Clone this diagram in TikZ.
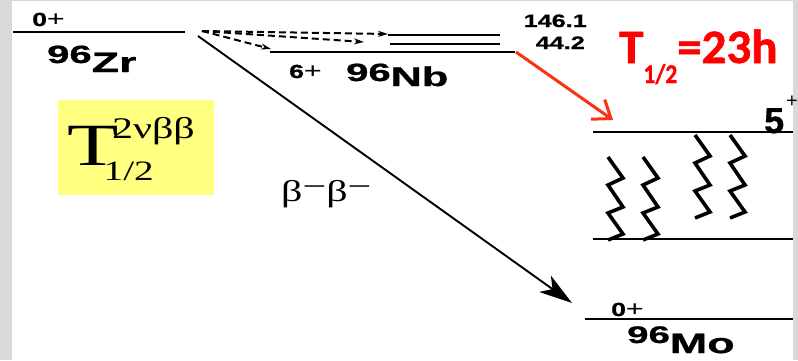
\documentclass[tikz,border=0pt]{standalone}
\usepackage{graphicx}
\usepackage{fontspec}
\setmainfont{Liberation Serif}
\setsansfont{Liberation Sans}[BoldFeatures={FakeBold=0.8}]
\newfontfamily\calfont{Carlito}[BoldFeatures={FakeBold=1.2}]
\usetikzlibrary{arrows.meta, positioning}

\definecolor{amarelo}{RGB}{255,255,128}
\definecolor{vermelho}{RGB}{255,0,0}
\definecolor{laranja}{RGB}{250,50,20}
\definecolor{borda}{RGB}{217,217,217}

\newcommand{\fsz}[1]{\fontsize{#1}{#1}\selectfont}
\newcommand{\xwide}[2][1.4]{\scalebox{#1}[1]{#2}}

\begin{document}
\begin{tikzpicture}[x=1pt, y=-1pt,
    nivel/.style={line width=2.3pt},
    nivelfino/.style={line width=1.8pt},
    rotulo/.style={font=\sffamily\bfseries, inner sep=0pt, anchor=base west},
    zig/.style={line width=3.6pt, line join=miter},
    tracejado/.style={line width=2pt, dash pattern=on 7pt off 4pt,
        -{Stealth[length=10pt, width=6pt]}}]

                % Fundo e margens
                \useasboundingbox (0,0) rectangle (798,360);
                \fill[borda] (0,0) rectangle (12,360);
                \fill[borda] (793,0) rectangle (798,360);
                \fill[borda] (0,0) rectangle (798,1);

                % Nivel do 96Zr
                \draw[nivel] (13,32) -- (185,32);
                \node[rotulo] (zrspin) at (32,26) {\xwide{\fsz{19}0\fsz{22}\mdseries+}};
                \node[rotulo] (zrnome) at (47,72) {\xwide[1.6]{\raisebox{9pt}{\fsz{25}96}\fsz{28}Zr}};

                % Niveis do 96Nb
                \draw[nivel] (270,52) -- (515,52);
                \draw[nivelfino] (388,35) -- (500,35);
                \draw[nivelfino] (390,44) -- (500,44);
                \node[rotulo, anchor=base east] (ea) at (587,27) {\xwide{\fsz{18}146.1}};
                \node[rotulo, anchor=base east] (eb) at (585,49) {\xwide{\fsz{18}44.2}};
                \node[rotulo] (nbspin) at (289,78) {\xwide{\fsz{19}6\fsz{22}\mdseries+}};
                \node[rotulo] (nbnome) at (346,86) {\xwide[1.6]{\raisebox{5pt}{\fsz{25}96}\fsz{27}Nb}};

                % Transicoes tracejadas Zr -> Nb
                \coordinate (zrR) at (202,31);
                \coordinate (nbA) at (388,34);
                \coordinate (nbB) at (364,42);
                \coordinate (nbC) at (271,49);
                \foreach \alvo in {nbA,nbB,nbC}
                    \draw[tracejado] (zrR) -- (\alvo);

                % Caixa da meia-vida 2vbb
                \node[fill=amarelo, minimum width=156pt, minimum height=95pt, inner sep=0pt] (caixa) at (136,147.5) {};
                \node[anchor=base west, inner sep=0pt] (tmeia) at (67,165)
                    {\xwide{\fsz{60}T\kern-4.6pt\rlap{\raisebox{27pt}{\fsz{30}2νββ}}\kern-6pt\raisebox{-15pt}{\fsz{28}1/2}}};

                % Decaimento beta duplo
                \coordinate (zrB) at (198,36);
                \coordinate (moT) at (572,303);
                \draw[line width=1.9pt, -{Stealth[length=33pt, width=20pt, inset=9pt]}] (zrB) -- (moT);
                \node[anchor=base west, inner sep=0pt, font=\fsz{30}] (betas) at (281,201)
                    {\xwide{β\raisebox{5pt}{−}β\raisebox{5pt}{−}}};

                % Decaimento do Nb (seta vermelha)
                \coordinate (nbE) at (516,52);
                \coordinate (cincoT) at (613,120);
                \draw[laranja, line width=3pt, -{Straight Barb[length=16pt, width=24pt]}] (nbE) -- (cincoT);
                \node[anchor=base west, inner sep=0pt, text=vermelho, font=\calfont\bfseries\fsz{48}] (meiavida) at (619,63)
                    {\xwide[1.02]{T\raisebox{-20pt}{\fsz{27}\scalebox{0.85}[1]{1/2}}=23h}};

                % Niveis do 96Mo
                \draw[nivelfino] (593,132) -- (793,132);
                \draw[nivelfino] (593,239) -- (793,239);
                \draw[nivel] (585,319) -- (793,319);
                \node[rotulo] (cinco) at (764,133) {\fsz{36}5\kern2pt\raisebox{26pt}{\fsz{20}\mdseries+}};
                \node[rotulo] (mospin) at (611,316) {\xwide{\fsz{19}0\fsz{22}\mdseries+}};
                \node[rotulo] (monome) at (627,353) {\xwide[1.6]{\raisebox{10pt}{\fsz{24}96}\fsz{28}Mo}};

                % Cascatas gama (zigue-zague)
                \foreach \zx/\zy in {608/157, 643/157, 695/135, 730/135}
                    \draw[zig] (\zx,\zy) -- ++(15,21) -- ++(-15,7) -- ++(15,22)
                        -- ++(-15,6) -- ++(15,21) -- ++(-15,6);

\end{tikzpicture}
\end{document}
